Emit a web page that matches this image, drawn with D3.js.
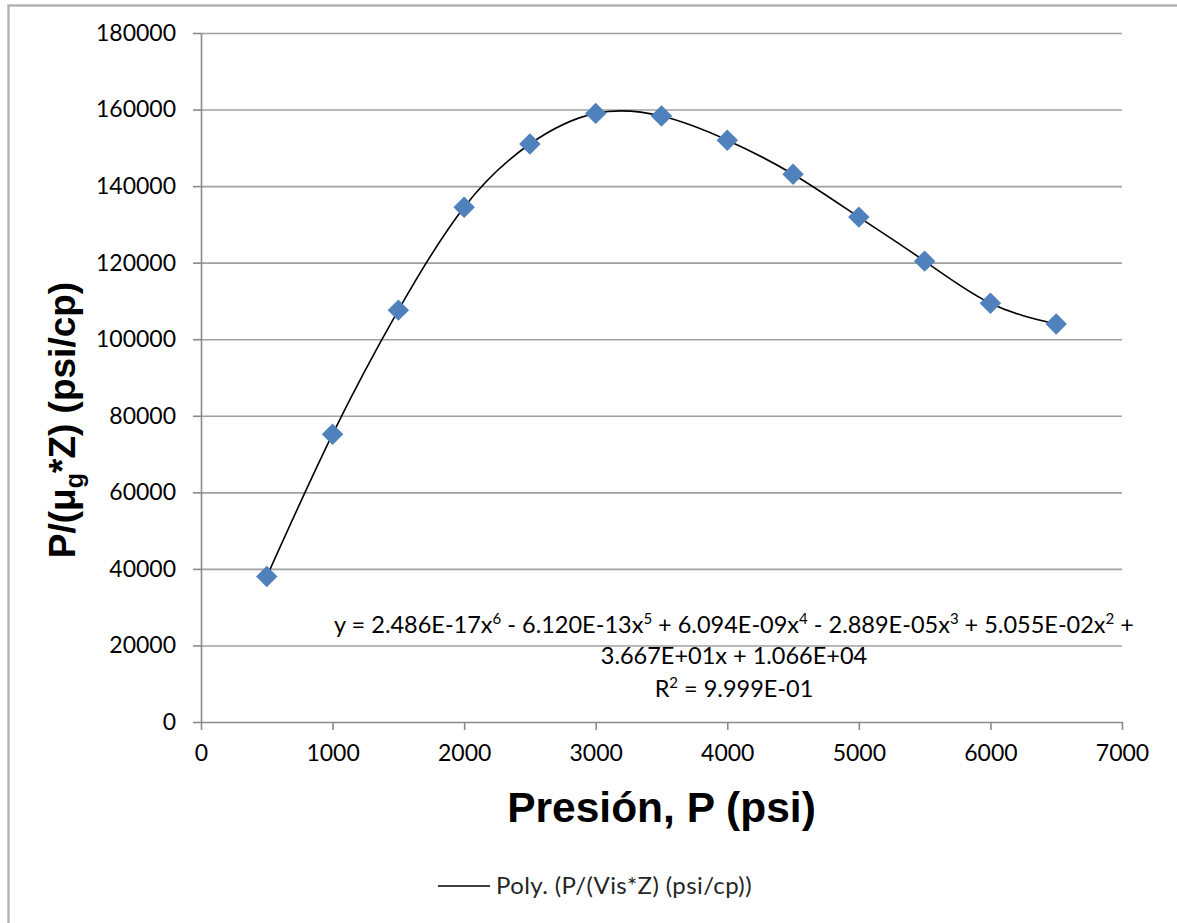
<!DOCTYPE html>
<html>
<head>
<meta charset="utf-8">
<script src="https://cdn.jsdelivr.net/npm/d3@7"></script>
<style>
  body { margin: 0; background: #fff; }
</style>
</head>
<body>
<svg id="chart"></svg>
<script>
// data
const pressure = [500, 1000, 1500, 2000, 2500, 3000, 3500, 4000, 4500, 5000, 5500, 6000, 6500];
const ratio = [38000, 75200, 107600, 134500, 151000, 159000, 158300, 152000, 143100, 131900, 120400, 109400, 104000];
const xTickValues = [0, 1000, 2000, 3000, 4000, 5000, 6000, 7000];
const yTickValues = [0, 20000, 40000, 60000, 80000, 100000, 120000, 140000, 160000, 180000];
const eqLine1 = [["y = 2.486E-17x", "6"], [" - 6.120E-13x", "5"], [" + 6.094E-09x", "4"], [" - 2.889E-05x", "3"], [" + 5.055E-02x", "2"], [" +", ""]];
const eqLine2 = [["3.667E+01x + 1.066E+04", ""]];
const eqLine3 = [["R", "2"], [" = 9.999E-01", ""]];
const legendLabel = "Poly. (P/(Vis*Z) (psi/cp))";

const width = 1177, height = 923;
const margin = {top: 33, right: 55, bottom: 201, left: 201};
const bodyFont = 'Lato, "Open Sans", sans-serif';
const titleFont = '"Liberation Sans", Arial, sans-serif';

const svg = d3.select('#chart').attr('width', width).attr('height', height);

// outer chart border (cropped at right/bottom)
svg.append('rect')
  .attr('x', 8.5).attr('y', 5.5)
  .attr('width', width + 20).attr('height', height + 20)
  .attr('fill', '#fff').attr('stroke', '#b4b4b4').attr('stroke-width', 2.5);

const x = d3.scaleLinear().domain([0, 7000]).range([margin.left, width - margin.right]);
const y = d3.scaleLinear().domain([0, 180000]).range([height - margin.bottom, margin.top]);

// horizontal gridlines
svg.append('g')
  .attr('transform', `translate(${margin.left},0)`)
  .call(d3.axisLeft(y).tickValues(yTickValues.slice(1)).tickSize(-(x.range()[1] - x.range()[0])).tickFormat(''))
  .call(g => g.select('.domain').remove())
  .call(g => g.selectAll('line').attr('stroke', '#a0a0a0').attr('stroke-width', 1.6));

let yAxis = d3.axisLeft(y).tickValues(yTickValues).tickFormat(d3.format('d')).tickSize(8).tickSizeOuter(0).tickPadding(17);
let xAxis = d3.axisBottom(x).tickValues(xTickValues).tickFormat(d3.format('d')).tickSize(8).tickSizeOuter(0).tickPadding(15);

function styleAxis(g) {
  g.selectAll('line, path').attr('stroke', '#8a8a8a').attr('stroke-width', 1.6);
  g.selectAll('text').style('font-family', bodyFont).style('font-size', '23px').attr('fill', '#000');
}
svg.append('g').attr('transform', `translate(${margin.left},0)`).call(yAxis).call(styleAxis);
svg.append('g').attr('transform', `translate(0,${height - margin.bottom})`).call(xAxis).call(styleAxis);

const data = pressure.map((p, i) => ({p: p, v: ratio[i]}));

// trendline
const line = d3.line().x(d => x(d.p)).y(d => y(d.v)).curve(d3.curveNatural);
svg.append('path')
  .datum(data)
  .attr('fill', 'none')
  .attr('stroke', '#000')
  .attr('stroke-width', 1.6)
  .attr('d', line);

// markers
svg.append('g').selectAll('path')
  .data(data)
  .join('path')
  .attr('d', d3.symbol(d3.symbolSquare, 230))
  .attr('transform', d => `translate(${x(d.p)},${y(d.v)}) rotate(45)`)
  .attr('fill', '#4f81bd');

// trendline equation
const eqX = 734;
function addRich(yPos, parts) {
  const t = svg.append('text').attr('x', eqX).attr('y', yPos).attr('text-anchor', 'middle')
    .style('font-family', bodyFont).style('font-size', '23.5px').attr('fill', '#000');
  let shift = 0;
  parts.forEach(([base, sup]) => {
    t.append('tspan').attr('dy', shift).text(base);
    shift = 0;
    if (sup) {
      t.append('tspan').style('font-size', '15px').attr('dy', -9).text(sup);
      shift = 9;
    }
  });
}
addRich(633, eqLine1);
addRich(664, eqLine2);
addRich(697, eqLine3);

// axis titles
svg.append('text')
  .attr('x', (x.range()[0] + x.range()[1]) / 2)
  .attr('y', 822)
  .attr('text-anchor', 'middle')
  .style('font-family', titleFont)
  .style('font-weight', 'bold')
  .style('font-size', '42.5px')
  .attr('fill', '#000')
  .text('Presión, P (psi)');

const yTitle = svg.append('text')
  .attr('transform', `translate(75,420) rotate(-90)`)
  .attr('text-anchor', 'middle')
  .style('font-family', titleFont)
  .style('font-weight', 'bold')
  .style('font-size', '37px')
  .attr('fill', '#000');
yTitle.append('tspan').text('P/(μ');
yTitle.append('tspan').style('font-size', '25px').attr('dy', 8).text('g');
yTitle.append('tspan').attr('dy', -8).text('*Z) (psi/cp)');

// legend
svg.append('line')
  .attr('x1', 438).attr('x2', 490).attr('y1', 886).attr('y2', 886)
  .attr('stroke', '#000').attr('stroke-width', 1.6);
svg.append('text')
  .attr('x', 496).attr('y', 894)
  .style('font-family', bodyFont)
  .style('font-size', '24px')
  .style('letter-spacing', '0.4px')
  .attr('fill', '#262626')
  .text(legendLabel);
</script>
</body>
</html>
